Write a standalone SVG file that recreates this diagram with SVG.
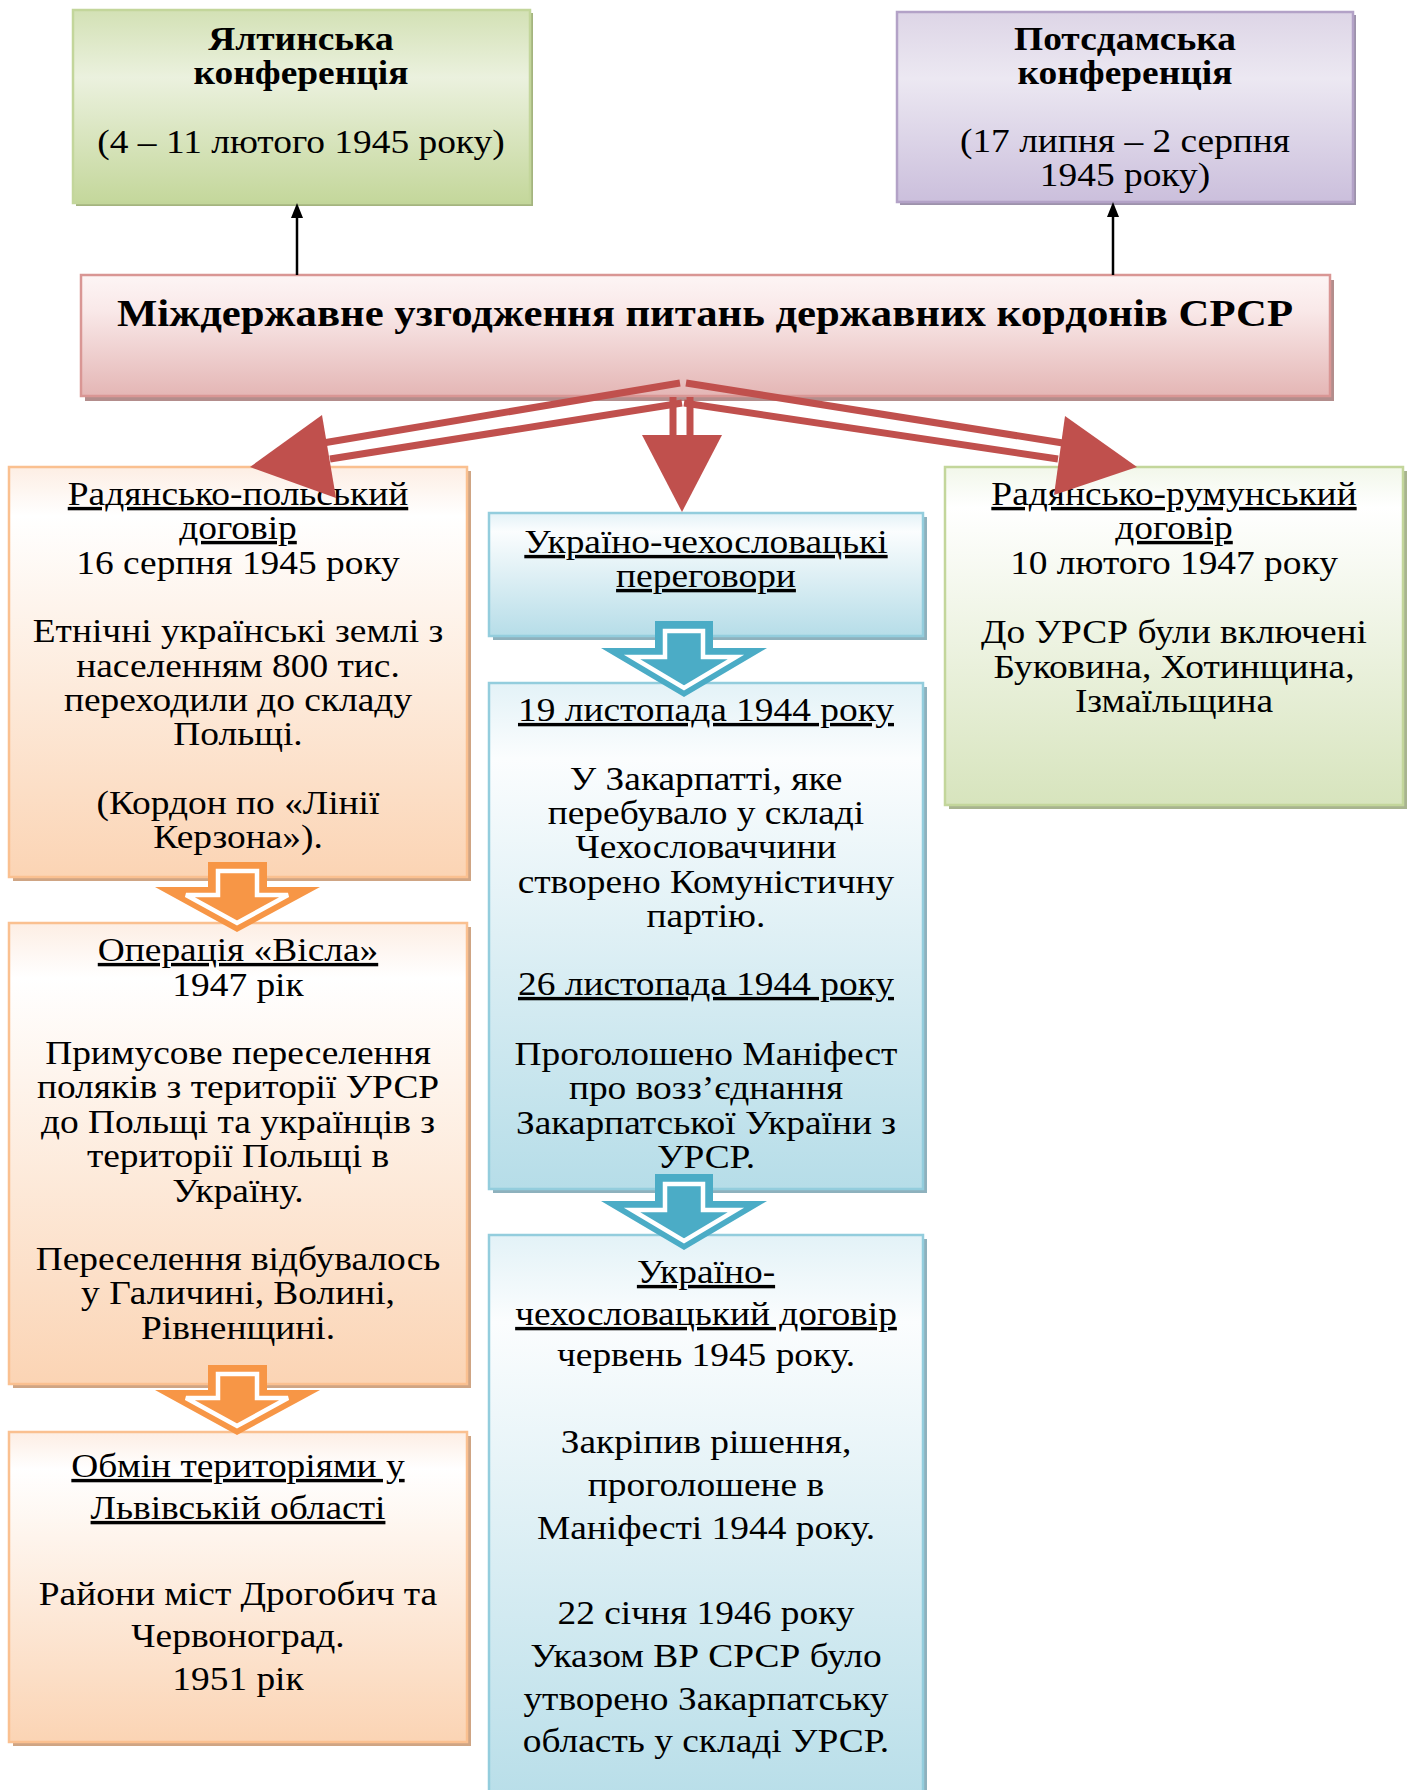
<svg xmlns="http://www.w3.org/2000/svg" width="1408" height="1790" viewBox="0 0 1408 1790">
<defs>
<linearGradient id="gYal" x1="0" y1="0" x2="0" y2="1"><stop offset="0" stop-color="#d3e1b5"/><stop offset="0.35" stop-color="#ebf1de"/><stop offset="1" stop-color="#c4d79b"/></linearGradient>
<linearGradient id="gPot" x1="0" y1="0" x2="0" y2="1"><stop offset="0" stop-color="#ddd5e6"/><stop offset="0.35" stop-color="#ece8f2"/><stop offset="1" stop-color="#cbbfdc"/></linearGradient>
<linearGradient id="gMain" x1="0" y1="0" x2="0" y2="1"><stop offset="0" stop-color="#fdf5f5"/><stop offset="0.3" stop-color="#f9e8e8"/><stop offset="1" stop-color="#e4b6b5"/></linearGradient>
<linearGradient id="gPeach" x1="0" y1="0" x2="0" y2="1"><stop offset="0" stop-color="#fdeee4"/><stop offset="0.12" stop-color="#ffffff"/><stop offset="1" stop-color="#fbd4b4"/></linearGradient>
<linearGradient id="gBlue" x1="0" y1="0" x2="0" y2="1"><stop offset="0" stop-color="#e3f2f7"/><stop offset="0.15" stop-color="#fbfdfe"/><stop offset="1" stop-color="#b6dde8"/></linearGradient>
<linearGradient id="gGreen" x1="0" y1="0" x2="0" y2="1"><stop offset="0" stop-color="#f2f7ea"/><stop offset="0.12" stop-color="#ffffff"/><stop offset="1" stop-color="#d7e4bd"/></linearGradient>
</defs>
<style>
.t{font-family:"Liberation Serif","Times New Roman",serif;font-size:34px;fill:#000;text-anchor:middle}
.b{font-weight:bold}
.u{text-decoration:underline}
.bx{stroke-width:2.5}
.red{fill:none;stroke:#c0504d;stroke-width:7}
.redh{fill:#c0504d}
.blk{stroke:#000;stroke-width:2.5;fill:none}
.org{fill:#f79646}
.orgi{fill:#f79646;stroke:#ffffff;stroke-width:4.5;stroke-linejoin:miter}
.blu{fill:#4bacc6}
.blui{fill:#4bacc6;stroke:#ffffff;stroke-width:4.5;stroke-linejoin:miter}
</style>

<g id="n-yalta">
<rect x="76" y="13" width="457" height="193" fill="#a4b47f"/>
<rect x="73" y="10" width="457" height="193" fill="url(#gYal)" stroke="#c3d69b" class="bx"/>
<g transform="matrix(1.1 0 0 1 -30.1 0)">
<text class="t b" x="301" y="50">Ялтинська</text>
<text class="t b" x="301" y="84">конференція</text>
<text class="t" x="301" y="153">(4 – 11 лютого 1945 року)</text>
</g>
</g>

<g id="n-potsdam">
<rect x="900" y="15" width="456" height="190" fill="#9d92ab"/>
<rect x="897" y="12" width="456" height="190" fill="url(#gPot)" stroke="#b3a2c7" class="bx"/>
<g transform="matrix(1.1 0 0 1 -112.5 0)">
<text class="t b" x="1125" y="50">Потсдамська</text>
<text class="t b" x="1125" y="84">конференція</text>
<text class="t" x="1125" y="152">(17 липня – 2 серпня</text>
<text class="t" x="1125" y="186">1945 року)</text>
</g>
</g>

<g id="n-main">
<rect x="85" y="280" width="1249" height="121" fill="#b38d8c"/>
<rect x="81" y="275" width="1249" height="121" fill="url(#gMain)" stroke="#d99694" class="bx"/>
<g transform="matrix(1.125 0 0 1 -88.1 0)">
<text class="t b" x="705" y="326" style="font-size:38px">Міждержавне узгодження питань державних кордонів СРСР</text>
</g>
</g>

<g id="n-pl">
<rect x="13" y="471" width="458" height="410" fill="#cfa584"/>
<rect x="9" y="467" width="458" height="410" fill="url(#gPeach)" stroke="#fac090" class="bx"/>
<g transform="matrix(1.1 0 0 1 -23.8 0)">
<text class="t u" x="238" y="505">Радянсько-польський</text>
<text class="t u" x="238" y="539">договір</text>
<text class="t" x="238" y="574">16 серпня 1945 року</text>
<text class="t" x="238" y="642">Етнічні українські землі з</text>
<text class="t" x="238" y="677">населенням 800 тис.</text>
<text class="t" x="238" y="711">переходили до складу</text>
<text class="t" x="238" y="745">Польщі.</text>
<text class="t" x="238" y="814">(Кордон по «Лінії</text>
<text class="t" x="238" y="848">Керзона»).</text>
</g>
</g>

<g id="n-visla">
<rect x="13" y="927" width="458" height="461" fill="#cfa584"/>
<rect x="9" y="923" width="458" height="461" fill="url(#gPeach)" stroke="#fac090" class="bx"/>
<g transform="matrix(1.1 0 0 1 -23.8 0)">
<text class="t u" x="238" y="961">Операція «Вісла»</text>
<text class="t" x="238" y="996">1947 рік</text>
<text class="t" x="238" y="1064">Примусове переселення</text>
<text class="t" x="238" y="1098">поляків з території УРСР</text>
<text class="t" x="238" y="1133">до Польщі та українців з</text>
<text class="t" x="238" y="1167">території Польщі в</text>
<text class="t" x="238" y="1202">Україну.</text>
<text class="t" x="238" y="1270">Переселення відбувалось</text>
<text class="t" x="238" y="1304">у Галичині, Волині,</text>
<text class="t" x="238" y="1339">Рівненщині.</text>
</g>
</g>

<g id="n-lviv">
<rect x="13" y="1436" width="458" height="310" fill="#cfa584"/>
<rect x="9" y="1432" width="458" height="310" fill="url(#gPeach)" stroke="#fac090" class="bx"/>
<g transform="matrix(1.1 0 0 1 -23.8 0)">
<text class="t u" x="238" y="1477">Обмін територіями у</text>
<text class="t u" x="238" y="1519">Львівській області</text>
<text class="t" x="238" y="1605">Райони міст Дрогобич та</text>
<text class="t" x="238" y="1647">Червоноград.</text>
<text class="t" x="238" y="1690">1951 рік</text>
</g>
</g>

<g id="n-cz-talks">
<rect x="493" y="517" width="434" height="123" fill="#8eb1bd"/>
<rect x="489" y="513" width="434" height="123" fill="url(#gBlue)" stroke="#93cddd" class="bx"/>
<g transform="matrix(1.1 0 0 1 -70.6 0)">
<text class="t u" x="706" y="553">Україно-чехословацькі</text>
<text class="t u" x="706" y="587">переговори</text>
</g>
</g>

<g id="n-cz-1944">
<rect x="493" y="687" width="434" height="506" fill="#8eb1bd"/>
<rect x="489" y="683" width="434" height="506" fill="url(#gBlue)" stroke="#93cddd" class="bx"/>
<g transform="matrix(1.1 0 0 1 -70.6 0)">
<text class="t u" x="706" y="721">19 листопада 1944 року</text>
<text class="t" x="706" y="790">У Закарпатті, яке</text>
<text class="t" x="706" y="824">перебувало у складі</text>
<text class="t" x="706" y="858">Чехословаччини</text>
<text class="t" x="706" y="893">створено Комуністичну</text>
<text class="t" x="706" y="927">партію.</text>
<text class="t u" x="706" y="995">26 листопада 1944 року</text>
<text class="t" x="706" y="1065">Проголошено Маніфест</text>
<text class="t" x="706" y="1099">про возз’єднання</text>
<text class="t" x="706" y="1134">Закарпатської України з</text>
<text class="t" x="706" y="1168">УРСР.</text>
</g>
</g>

<g id="n-cz-treaty">
<rect x="493" y="1239" width="434" height="580" fill="#8eb1bd"/>
<rect x="489" y="1235" width="434" height="580" fill="url(#gBlue)" stroke="#93cddd" class="bx"/>
<g transform="matrix(1.1 0 0 1 -70.6 0)">
<text class="t u" x="706" y="1283">Україно-</text>
<text class="t u" x="706" y="1325">чехословацький договір</text>
<text class="t" x="706" y="1366">червень 1945 року.</text>
<text class="t" x="706" y="1453">Закріпив рішення,</text>
<text class="t" x="706" y="1496">проголошене в</text>
<text class="t" x="706" y="1539">Маніфесті 1944 року.</text>
<text class="t" x="706" y="1624">22 січня 1946 року</text>
<text class="t" x="706" y="1667">Указом ВР СРСР було</text>
<text class="t" x="706" y="1710">утворено Закарпатську</text>
<text class="t" x="706" y="1752">область у складі УРСР.</text>
</g>
</g>

<g id="n-ro">
<rect x="949" y="471" width="458" height="338" fill="#a8b48f"/>
<rect x="945" y="467" width="458" height="338" fill="url(#gGreen)" stroke="#c3d69b" class="bx"/>
<g transform="matrix(1.1 0 0 1 -117.4 0)">
<text class="t u" x="1174" y="505">Радянсько-румунський</text>
<text class="t u" x="1174" y="539">договір</text>
<text class="t" x="1174" y="574">10 лютого 1947 року</text>
<text class="t" x="1174" y="643">До УРСР були включені</text>
<text class="t" x="1174" y="678">Буковина, Хотинщина,</text>
<text class="t" x="1174" y="712">Ізмаїльщина</text>
</g>
</g>

<g id="connectors">
<line class="blk" x1="297" y1="275" x2="297" y2="214"/>
<polygon points="297,203 291,218 303,218" fill="#000"/>
<line class="blk" x1="1113" y1="275" x2="1113" y2="213"/>
<polygon points="1113,202 1107,217 1119,217" fill="#000"/>

<line class="red" x1="680" y1="383" x2="323" y2="443"/>
<line class="red" x1="682" y1="403" x2="330" y2="459"/>
<polygon class="redh" points="250,467 322,415 336,498"/>
<line class="red" x1="673" y1="397" x2="673" y2="437"/>
<line class="red" x1="690" y1="397" x2="690" y2="437"/>
<polygon class="redh" points="642,435 722,435 682,512"/>
<line class="red" x1="686" y1="383" x2="1063" y2="443"/>
<line class="red" x1="684" y1="403" x2="1058" y2="459"/>
<polygon class="redh" points="1137,467 1065,416 1054,495"/>

<polygon class="org" points="208,862 267,862 267,887 320,887 237,932 155,887 208,887"/>
<polygon class="orgi" points="218,871 257,871 257,895 288,895 237,923 186,895 218,895"/>
<polygon class="org" points="208,1365 267,1365 267,1390 320,1390 237,1435 155,1390 208,1390"/>
<polygon class="orgi" points="218,1374 257,1374 257,1398 288,1398 237,1426 186,1398 218,1398"/>

<polygon class="blu" points="655,621 713,621 713,648 767,648 684,697 601,648 655,648"/>
<polygon class="blui" points="665,631 703,631 703,657 736,657 684,688 632,657 665,657"/>
<polygon class="blu" points="655,1174 713,1174 713,1201 767,1201 684,1250 601,1201 655,1201"/>
<polygon class="blui" points="665,1184 703,1184 703,1210 736,1210 684,1241 632,1210 665,1210"/>
</g>
</svg>
